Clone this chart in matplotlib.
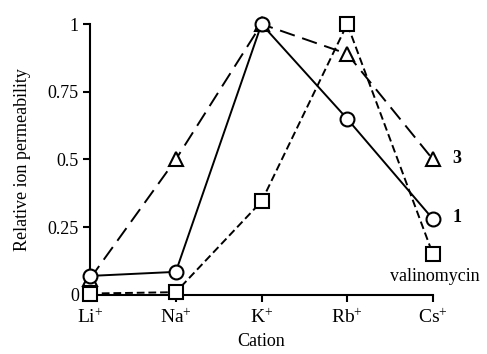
import matplotlib
matplotlib.use("Agg")
import matplotlib.pyplot as plt

plt.rcParams['font.family'] = ['Liberation Serif', 'DejaVu Serif']
plt.rcParams['mathtext.fontset'] = 'custom'
plt.rcParams['mathtext.rm'] = 'Liberation Serif'
plt.rcParams['mathtext.it'] = 'Liberation Serif:italic'

cations = ['Li$^{+}$', 'Na$^{+}$', 'K$^{+}$', 'Rb$^{+}$', 'Cs$^{+}$']
ionophore_1 = [0.07, 0.085, 1.0, 0.65, 0.28]
ionophore_3 = [0.06, 0.5, 1.0, 0.89, 0.5]
valinomycin = [0.005, 0.01, 0.345, 1.0, 0.15]
yticks = [0, 0.25, 0.5, 0.75, 1]
ytick_labels = ['0', '0.25', '0.5', '0.75', '1']

fig = plt.figure(figsize=(4.87, 3.54), dpi=100)
ax = fig.add_axes([0.185, 0.167, 0.704, 0.765])
x = range(len(cations))

mk = dict(markerfacecolor='white', markeredgecolor='black', markeredgewidth=1.5,
          color='black', linewidth=1.4, clip_on=False)
ax.plot(x, valinomycin, marker='s', markersize=10, dashes=(4, 2), zorder=3, **mk)
ax.plot(x, ionophore_3, marker='^', markersize=10, dashes=(8, 4), zorder=4, **mk)
ax.plot(x, ionophore_1, marker='o', markersize=10, zorder=5, **mk)

ax.set_xlim(0, len(cations) - 1)
ax.set_ylim(0, 1)
ax.set_xticks(list(x))
ax.set_xticklabels(cations, fontsize=14)
ax.set_yticks(yticks)
ax.set_yticklabels(ytick_labels, fontsize=13)
ax.tick_params(direction='out', length=5, width=1.5, pad=3)
ax.tick_params(axis='x', pad=5)

for side in ['top', 'right']:
    ax.spines[side].set_visible(False)
for side in ['left', 'bottom']:
    ax.spines[side].set_linewidth(1.5)

ax.set_xlabel('Cation', fontsize=13, labelpad=4)
ax.set_ylabel('Relative ion permeability', fontsize=13, labelpad=12)

last = len(cations) - 1
ax.annotate('3', (last, ionophore_3[-1]), xytext=(14, 1), textcoords='offset points',
            fontsize=13, fontweight='bold', va='center', ha='left')
ax.annotate('1', (last, ionophore_1[-1]), xytext=(14, 1), textcoords='offset points',
            fontsize=13, fontweight='bold', va='center', ha='left')
ax.annotate('valinomycin', (last, valinomycin[-1]), xytext=(1, -10), textcoords='offset points',
            fontsize=13, va='top', ha='center')

fig.savefig('out.png', dpi=100)
